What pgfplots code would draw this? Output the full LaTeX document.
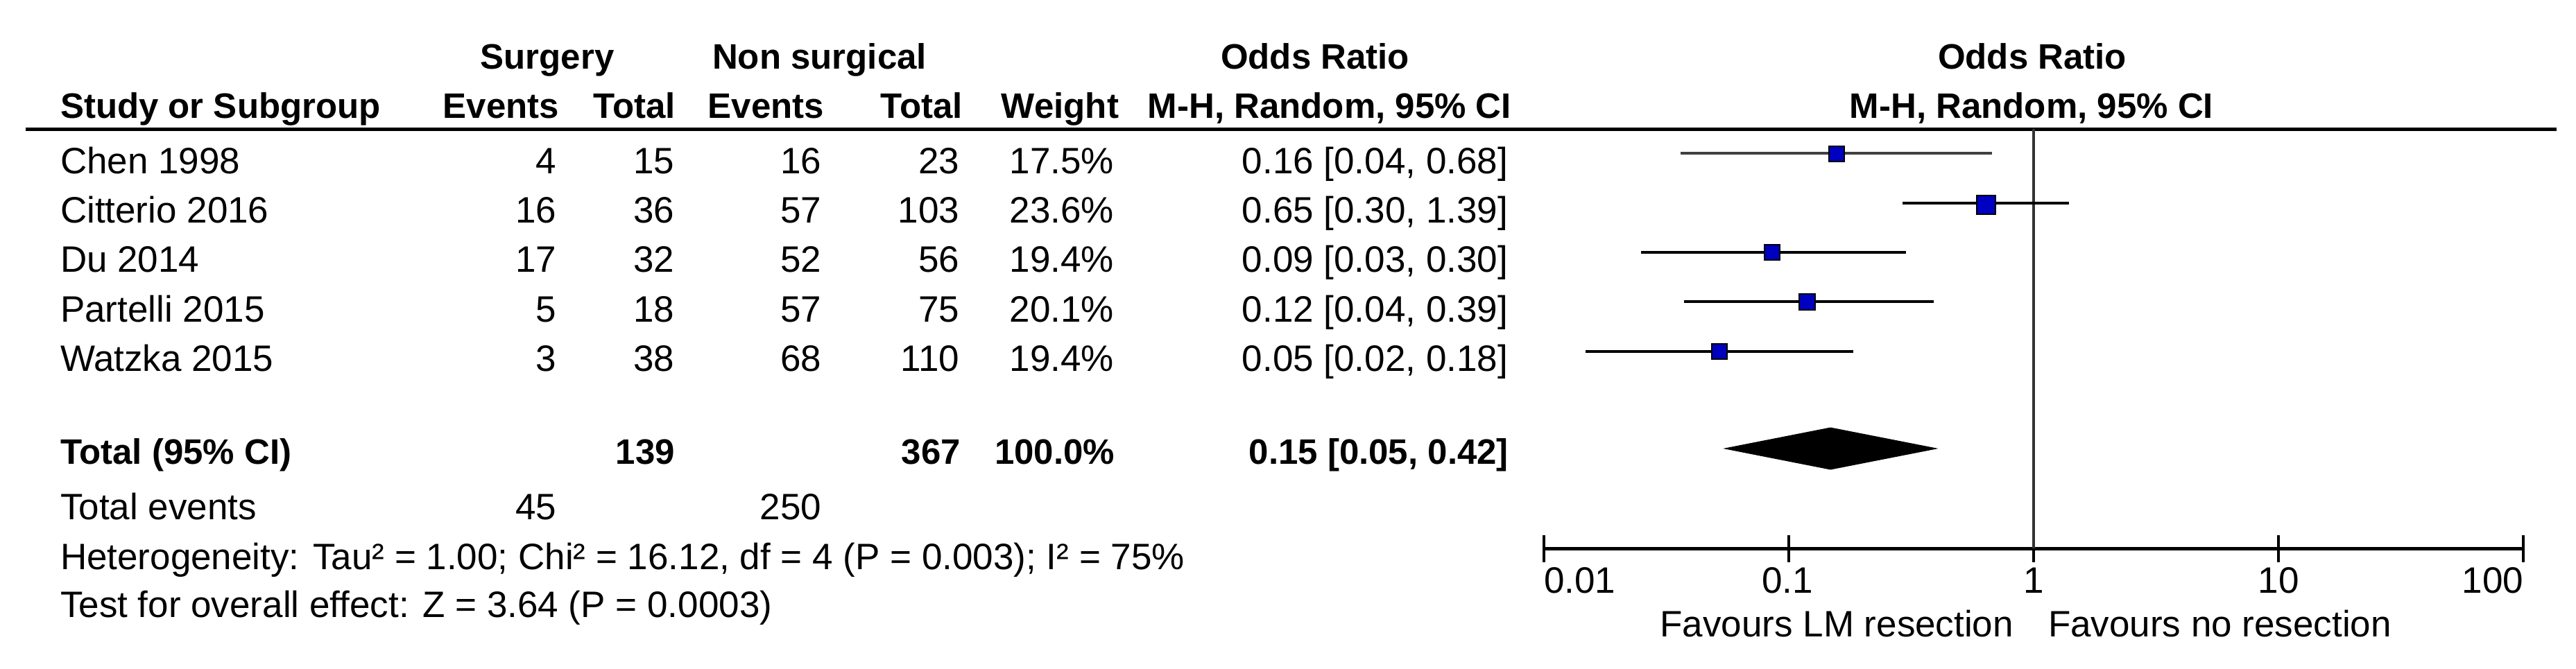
\documentclass[border=0pt]{standalone}
\usepackage{fontspec}
\setmainfont{Liberation Sans}
\usepackage{pgfplots}
\pgfplotsset{compat=1.18}
\definecolor{sqblue}{RGB}{0,0,192}

\begin{document}
\begin{tikzpicture}[
  txt/.style={inner sep=0pt, outer sep=0pt, font=\fontsize{10.6pt}{12pt}\selectfont},
  btxt/.style={inner sep=0pt, outer sep=0pt, font=\fontsize{10.2pt}{12pt}\selectfont\bfseries},
]
\path[use as bounding box] (0pt,0pt) rectangle (742.8pt,-192.8pt);
\begin{scope}[x=0.2pt,y=-0.2pt]
% header line 1
\node[btxt,anchor=base] at (789,99) {Surgery};
\node[btxt,anchor=base] at (1181.5,99) {Non surgical};
\node[btxt,anchor=base] at (1896,99) {Odds Ratio};
\node[btxt,anchor=base] at (2930,99) {Odds Ratio};
% header line 2
\node[btxt,anchor=base west] at (87,170) {Study or Subgroup};
\node[btxt,anchor=base east] at (806,170) {Events};
\node[btxt,anchor=base east] at (974,170) {Total};
\node[btxt,anchor=base east] at (1188,170) {Events};
\node[btxt,anchor=base east] at (1388,170) {Total};
\node[btxt,anchor=base east] at (1613,170) {Weight};
\node[btxt,anchor=base east] at (2179,170) {M-H, Random, 95\% CI};
\node[btxt,anchor=base] at (2929,170) {M-H, Random, 95\% CI};
% header rule
\draw[line width=1pt] (37,186) -- (3686,186);
% study rows
\foreach \y/\name/\se/\st/\ne/\nt/\w/\ort in {
  250/Chen 1998/4/15/16/23/17.5/{0.16 [0.04, 0.68]},
  321.7/Citterio 2016/16/36/57/103/23.6/{0.65 [0.30, 1.39]},
  392.7/Du 2014/17/32/52/56/19.4/{0.09 [0.03, 0.30]},
  464/Partelli 2015/5/18/57/75/20.1/{0.12 [0.04, 0.39]},
  535.3/Watzka 2015/3/38/68/110/19.4/{0.05 [0.02, 0.18]}}{
  \node[txt,anchor=base west] at (87,\y) {\name};
  \node[txt,anchor=base east] at (802,\y) {\se};
  \node[txt,anchor=base east] at (972,\y) {\st};
  \node[txt,anchor=base east] at (1184,\y) {\ne};
  \node[txt,anchor=base east] at (1383,\y) {\nt};
  \node[txt,anchor=base east] at (1606,\y) {\w\%};
  \node[txt,anchor=base east] at (2174,\y) {\ort};
}
% total row
\node[btxt,anchor=base west] at (87,669) {Total (95\% CI)};
\node[btxt,anchor=base east] at (973,669) {139};
\node[btxt,anchor=base east] at (1385,669) {367};
\node[btxt,anchor=base east] at (1607,669) {100.0\%};
\node[btxt,anchor=base east] at (2175,669) {0.15 [0.05, 0.42]};
% total events
\node[txt,anchor=base west] at (87,749) {Total events};
\node[txt,anchor=base east] at (802,749) {45};
\node[txt,anchor=base east] at (1184,749) {250};
\node[txt,anchor=base west] at (87,821) {Heterogeneity: Tau² = 1.00; Chi² = 16.12, df = 4 (P = 0.003); I² = 75\%};
\node[txt,anchor=base west] at (87,890) {Test for overall effect: Z = 3.64 (P = 0.0003)};
% tick labels
\node[txt,anchor=base west] at (2226,855) {0.01};
\node[txt,anchor=base] at (2577,855) {0.1};
\node[txt,anchor=base] at (2932,855) {1};
\node[txt,anchor=base] at (3285,855) {10};
\node[txt,anchor=base east] at (3638,855) {100};
% favours
\node[txt,anchor=base east] at (2903,918) {Favours LM resection};
\node[txt,anchor=base west] at (2953,918) {Favours no resection};
\end{scope}

\begin{axis}[
  at={(445.2pt,-158.2pt)}, anchor=south west,
  scale only axis, width=282.4pt, height=121pt,
  xmode=log, log basis x=10,
  xmin=0.01, xmax=100, ymin=-791, ymax=-186,
  axis x line*=bottom, axis y line=none,
  xtick={0.01,0.1,1,10,100}, xticklabels={,,,,},
  minor xtick={},
  minor x tick style={draw=none},
  tick align=center, major tick length=7.8pt,
  x axis line style={line width=1pt},
  every tick/.style={line width=0.8pt, black},
  clip=false,
]
% line of no effect
\addplot[black!80, line width=0.8pt] coordinates {(1,-186) (1,-791)};
% confidence intervals
\addplot[black!75, line width=0.67pt] coordinates {(0.0361,-221) (0.676,-221)};
\addplot[black, line width=0.67pt] coordinates {(0.292,-293) (1.395,-293)};
\addplot[black, line width=0.67pt] coordinates {(0.0249,-364) (0.301,-364)};
\addplot[black, line width=0.67pt] coordinates {(0.0373,-435) (0.391,-435)};
\addplot[black, line width=0.67pt] coordinates {(0.0148,-507) (0.1834,-507)};
% point estimates
\addplot[only marks, mark=square*, mark size=2.2pt, mark options={draw=none, fill=sqblue}] coordinates {(0.157,-222)};
\addplot[only marks, mark=square*, mark size=2.7pt, mark options={draw=none, fill=sqblue}] coordinates {(0.640,-295)};
\addplot[only marks, mark=square*, mark size=2.2pt, mark options={draw=none, fill=sqblue}] coordinates {(0.0853,-364)};
\addplot[only marks, mark=square*, mark size=2.3pt, mark options={draw=none, fill=sqblue}] coordinates {(0.119,-435.5)};
\addplot[only marks, mark=square*, mark size=2.2pt, mark options={draw=none, fill=sqblue}] coordinates {(0.0521,-507)};
% pooled diamond
\addplot[fill=black, draw=black, line width=0.2pt] coordinates {(0.0548,-647) (0.148,-617) (0.401,-647) (0.148,-677)} -- cycle;
\end{axis}
\end{tikzpicture}
\end{document}
